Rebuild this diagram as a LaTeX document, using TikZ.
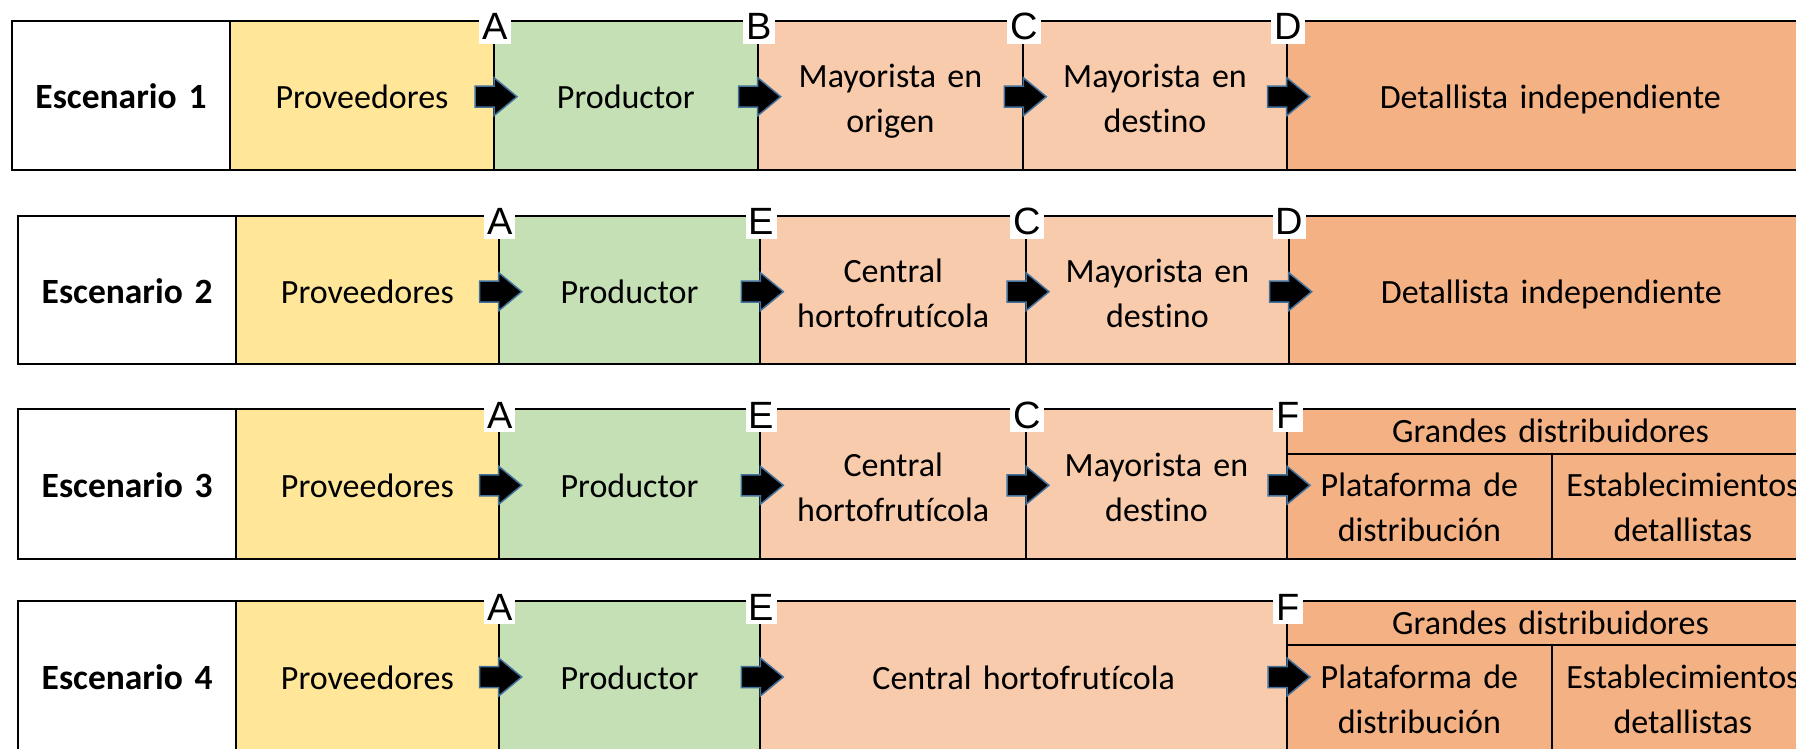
\documentclass[tikz,border=0pt]{standalone}
\usepackage{fontspec}
\setmainfont{Carlito}[Ligatures=NoCommon]
\newfontfamily\letterfont{Liberation Sans}
\definecolor{yellowc}{HTML}{FFE699}
\definecolor{greenc}{HTML}{C5E0B4}
\definecolor{peachc}{HTML}{F8CBAD}
\definecolor{orangec}{HTML}{F4B183}
\definecolor{arrowblue}{HTML}{41719C}
\newcommand\cellrect[6]{\node[cellbox, fill=#6, anchor=north west, minimum width={#4-#2}, minimum height={#5-#3}] (#1) at (#2,#3) {};}
\newcommand\barrow[2]{\draw[blockarr] ({#1-19},{#2-10.5}) -- (#1,{#2-10.5}) -- (#1,{#2-19}) -- ({#1+23},#2) -- (#1,{#2+19}) -- (#1,{#2+10.5}) -- ({#1-19},{#2+10.5}) -- cycle;}
\begin{document}
\begin{tikzpicture}[x=1pt,y=-1pt,
  cellbox/.style={draw=black, line width=2pt, rectangle, inner sep=0pt, outer sep=0pt},
  celltxt/.style={font=\fontsize{34}{45}\selectfont, text width=600pt, align=center, anchor=base, inner sep=0pt},
  scentxt/.style={celltxt, font=\bfseries\fontsize{35.5}{45}\selectfont},
  letterlbl/.style={fill=white, font=\letterfont\fontsize{38}{38}\selectfont, text height=27pt, text depth=0pt, inner xsep=3pt, inner ysep=4pt},
  blockarr/.style={fill=black, draw=arrowblue, line width=1.5pt, line join=miter}]
\useasboundingbox (0,0) rectangle (1796,749);
\clip (0,0) rectangle (1796,749);
% ---------------- Row 1 ----------------
\cellrect{r1c1}{12}{20.7}{230}{170}{white}
\cellrect{r1c2}{230}{20.7}{494}{170}{yellowc}
\cellrect{r1c3}{494}{20.7}{757.7}{170}{greenc}
\cellrect{r1c4}{757.7}{20.7}{1023.3}{170}{peachc}
\cellrect{r1c5}{1023.3}{20.7}{1286.7}{170}{peachc}
\cellrect{r1c6}{1286.7}{20.7}{1814}{170}{orangec}
\node[scentxt] (r1t1) at (121,108.7) {Escenario 1};
\node[celltxt] (r1t2) at (362,108.7) {Proveedores};
\node[celltxt] (r1t3) at (625.8,108.7) {Productor};
\node[celltxt] (r1t4) at (890.5,87.7) {Mayorista en\\origen};
\node[celltxt] (r1t5) at (1155,87.7) {Mayorista en\\destino};
\node[celltxt] (r1t6) at (1550.3,108.7) {Detallista independiente};
\barrow{494}{96.7}
\barrow{757.7}{96.7}
\barrow{1023.3}{96.7}
\barrow{1286.7}{96.7}
\node[letterlbl] (r1A) at (495,26.2) {A};
\node[letterlbl] (r1B) at (759,26.2) {B};
\node[letterlbl] (r1C) at (1024,26.2) {C};
\node[letterlbl] (r1D) at (1288,26.2) {D};
% ---------------- Row 2 ----------------
\cellrect{r2c1}{18.3}{215.7}{236}{364.3}{white}
\cellrect{r2c2}{236}{215.7}{498.7}{364.3}{yellowc}
\cellrect{r2c3}{498.7}{215.7}{760.3}{364.3}{greenc}
\cellrect{r2c4}{760.3}{215.7}{1026}{364.3}{peachc}
\cellrect{r2c5}{1026}{215.7}{1288.7}{364.3}{peachc}
\cellrect{r2c6}{1288.7}{215.7}{1814}{364.3}{orangec}
\node[scentxt] (r2t1) at (127.2,303.7) {Escenario 2};
\node[celltxt] (r2t2) at (367.4,303.7) {Proveedores};
\node[celltxt] (r2t3) at (629.5,303.7) {Productor};
\node[celltxt] (r2t4) at (893.2,282.7) {Central\\hortofrutícola};
\node[celltxt] (r2t5) at (1157.4,282.7) {Mayorista en\\destino};
\node[celltxt] (r2t6) at (1551.4,303.7) {Detallista independiente};
\barrow{498.7}{291.7}
\barrow{760.3}{291.7}
\barrow{1026}{291.7}
\barrow{1288.7}{291.7}
\node[letterlbl] (r2A) at (499.7,221.2) {A};
\node[letterlbl] (r2E) at (761.3,221.2) {E};
\node[letterlbl] (r2C) at (1027,221.2) {C};
\node[letterlbl] (r2D) at (1289.7,221.2) {D};
% ---------------- Row 3 ----------------
\cellrect{r3c1}{18.3}{409.3}{236}{559}{white}
\cellrect{r3c2}{236}{409.3}{498.7}{559}{yellowc}
\cellrect{r3c3}{498.7}{409.3}{760.3}{559}{greenc}
\cellrect{r3c4}{760.3}{409.3}{1026}{559}{peachc}
\cellrect{r3c5}{1026}{409.3}{1287}{559}{peachc}
\cellrect{r3c6}{1287}{409.3}{1814}{454}{orangec}
\cellrect{r3c7}{1287}{454}{1551.7}{559}{orangec}
\cellrect{r3c8}{1551.7}{454}{1814}{559}{orangec}
\node[scentxt] (r3t1) at (127.2,497.3) {Escenario 3};
\node[celltxt] (r3t2) at (367.4,497.3) {Proveedores};
\node[celltxt] (r3t3) at (629.5,497.3) {Productor};
\node[celltxt] (r3t4) at (893.2,476.3) {Central\\hortofrutícola};
\node[celltxt] (r3t5) at (1156.5,476.3) {Mayorista en\\destino};
\node[celltxt] (r3t6) at (1550.5,442.7) {Grandes distribuidores};
\node[celltxt] (r3t7) at (1419.4,496.7) {Plataforma de\\distribución};
\node[celltxt] (r3t8) at (1682.9,496.7) {Establecimientos\\detallistas};
\barrow{498.7}{485.3}
\barrow{760.3}{485.3}
\barrow{1026}{485.3}
\barrow{1287}{485.3}
\node[letterlbl] (r3A) at (499.7,414.8) {A};
\node[letterlbl] (r3E) at (761.3,414.8) {E};
\node[letterlbl] (r3C) at (1027,414.8) {C};
\node[letterlbl] (r3F) at (1288,414.8) {F};
% ---------------- Row 4 ----------------
\cellrect{r4c1}{18.3}{601}{236}{751}{white}
\cellrect{r4c2}{236}{601}{498.7}{751}{yellowc}
\cellrect{r4c3}{498.7}{601}{760.3}{751}{greenc}
\cellrect{r4c4}{760.3}{601}{1287}{751}{peachc}
\cellrect{r4c6}{1287}{601}{1814}{645.3}{orangec}
\cellrect{r4c7}{1287}{645.3}{1551.7}{751}{orangec}
\cellrect{r4c8}{1551.7}{645.3}{1814}{751}{orangec}
\node[scentxt] (r4t1) at (127.2,689) {Escenario 4};
\node[celltxt] (r4t2) at (367.4,689) {Proveedores};
\node[celltxt] (r4t3) at (629.5,689) {Productor};
\node[celltxt] (r4t4) at (1023.7,689) {Central hortofrutícola};
\node[celltxt] (r4t6) at (1550.5,634.4) {Grandes distribuidores};
\node[celltxt] (r4t7) at (1419.4,688.4) {Plataforma de\\distribución};
\node[celltxt] (r4t8) at (1682.9,688.4) {Establecimientos\\detallistas};
\barrow{498.7}{677}
\barrow{760.3}{677}
\barrow{1287}{677}
\node[letterlbl] (r4A) at (499.7,606.5) {A};
\node[letterlbl] (r4E) at (761.3,606.5) {E};
\node[letterlbl] (r4F) at (1288,606.5) {F};
\end{tikzpicture}
\end{document}
